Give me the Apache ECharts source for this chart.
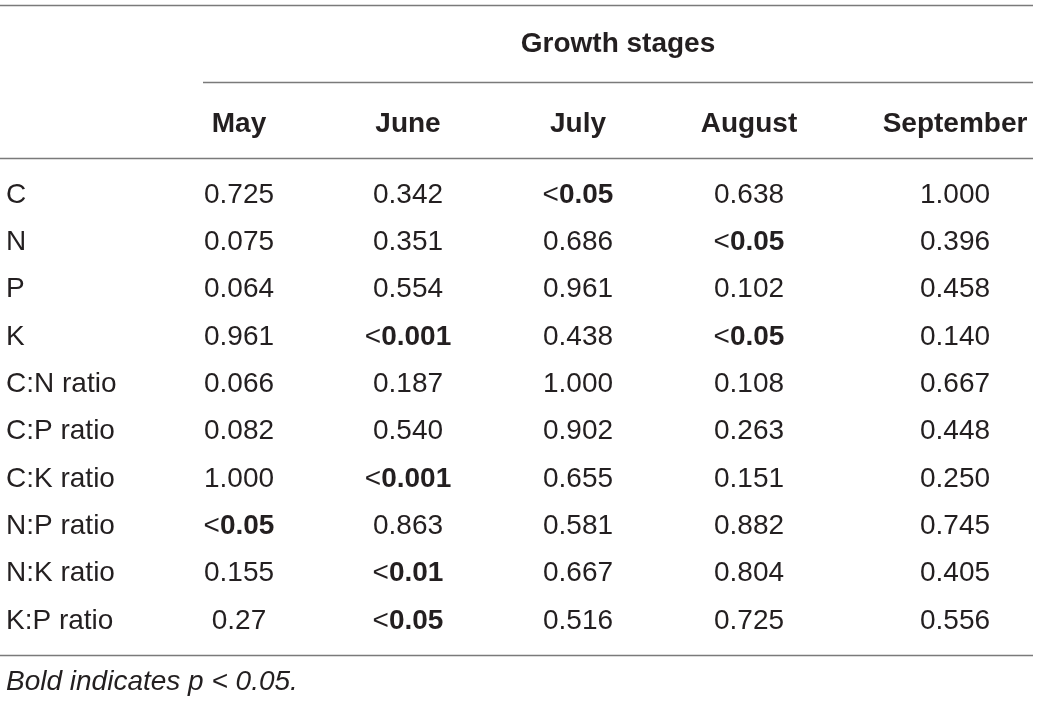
<!DOCTYPE html>
<html style="height: 100%">
<head>
    <meta charset="utf-8">
    <script src="https://cdn.jsdelivr.net/npm/echarts@6/dist/echarts.min.js"></script>
</head>
<body style="height: 100%; margin: 0; background: #fff">
<div id="container" style="width: 1039px; height: 704px"></div>

<script type="text/javascript">
    // table contents
    var rowNames = ['C', 'N', 'P', 'K', 'C:N ratio', 'C:P ratio', 'C:K ratio', 'N:P ratio', 'N:K ratio', 'K:P ratio'];
    var months = ['May', 'June', 'July', 'August', 'September'];
    var mayValues = ['0.725', '0.075', '0.064', '0.961', '0.066', '0.082', '1.000', '<0.05', '0.155', '0.27'];
    var juneValues = ['0.342', '0.351', '0.554', '<0.001', '0.187', '0.540', '<0.001', '0.863', '<0.01', '<0.05'];
    var julyValues = ['<0.05', '0.686', '0.961', '0.438', '1.000', '0.902', '0.655', '0.581', '0.667', '0.516'];
    var augustValues = ['0.638', '<0.05', '0.102', '<0.05', '0.108', '0.263', '0.151', '0.882', '0.804', '0.725'];
    var septemberValues = ['1.000', '0.396', '0.458', '0.140', '0.667', '0.448', '0.250', '0.745', '0.405', '0.556'];
    var columns = [mayValues, juneValues, julyValues, augustValues, septemberValues];
    var spanTitle = 'Growth stages';
    var footnote = 'Bold indicates p < 0.05.';

    var dom = document.getElementById("container");
    var myChart = echarts.init(dom);

    var font = 'Liberation Sans, Arial, sans-serif';
    var ink = '#231f20';
    var rule = '#7a7a7a';
    var colCenters = [239, 408, 578, 749, 955];  // layout of the value columns
    var colWidth = 160;
    var tableTop = 171.3, tableBottom = 59.3;

    var grids = [], xAxes = [], yAxes = [], series = [];
    for (var i = 0; i < months.length; i++) {
        grids.push({
            left: colCenters[i] - colWidth / 2,
            width: colWidth,
            top: tableTop,
            bottom: tableBottom
        });
        xAxes.push({
            gridIndex: i,
            type: 'category',
            position: 'top',
            data: [months[i]],
            axisLine: {show: false},
            axisTick: {show: false},
            splitLine: {show: false},
            axisLabel: {
                color: ink,
                fontFamily: font,
                fontSize: 28,
                fontWeight: 'bold',
                verticalAlign: 'middle',
                margin: 47
            }
        });
        yAxes.push({
            gridIndex: i,
            type: 'category',
            inverse: true,
            data: rowNames,
            axisLine: {show: false},
            axisTick: {show: false},
            splitLine: {show: false},
            axisLabel: i === 0 ? {
                show: true,
                color: ink,
                fontFamily: font,
                fontSize: 28,
                align: 'left',
                margin: colCenters[0] - colWidth / 2 - 6
            } : {show: false}
        });
        series.push({
            type: 'scatter',
            xAxisIndex: i,
            yAxisIndex: i,
            symbolSize: 0,
            silent: true,
            itemStyle: {color: ink, opacity: 1},
            data: columns[i].map(function (v, j) {
                return [months[i], rowNames[j], v];
            }),
            label: {
                show: true,
                position: 'inside',
                color: ink,
                opacity: 1,
                textBorderWidth: 0,
                fontFamily: font,
                fontSize: 28,
                formatter: function (p) {
                    var v = p.value[2];
                    if (v.charAt(0) === '<') {
                        return '{lt|<}{b|' + v.slice(1) + '}';
                    }
                    return v;
                },
                rich: {
                    lt: {color: ink, fontFamily: font, fontSize: 28},
                    b: {color: ink, fontFamily: font, fontSize: 28, fontWeight: 'bold'}
                }
            }
        });
    }

    var option = {
        backgroundColor: '#fff',
        animation: false,
        grid: grids,
        xAxis: xAxes,
        yAxis: yAxes,
        series: series,
        graphic: [
            {type: 'line', shape: {x1: 0, y1: 5.5, x2: 1033, y2: 5.5}, style: {stroke: rule, lineWidth: 1.5}},
            {type: 'line', shape: {x1: 203, y1: 82.5, x2: 1033, y2: 82.5}, style: {stroke: rule, lineWidth: 1.5}},
            {type: 'line', shape: {x1: 0, y1: 158.5, x2: 1033, y2: 158.5}, style: {stroke: rule, lineWidth: 1.5}},
            {type: 'line', shape: {x1: 0, y1: 655.5, x2: 1033, y2: 655.5}, style: {stroke: rule, lineWidth: 1.5}},
            {
                type: 'text',
                style: {
                    text: spanTitle, x: 618, y: 44, align: 'center', verticalAlign: 'middle',
                    fill: ink, fontFamily: font, fontSize: 28, fontWeight: 'bold'
                }
            },
            {
                type: 'text',
                style: {
                    text: footnote, x: 6, y: 682, align: 'left', verticalAlign: 'middle',
                    fill: ink, fontFamily: font, fontSize: 28, fontStyle: 'italic'
                }
            }
        ]
    };

    myChart.setOption(option, true);
</script>
</body>
</html>
